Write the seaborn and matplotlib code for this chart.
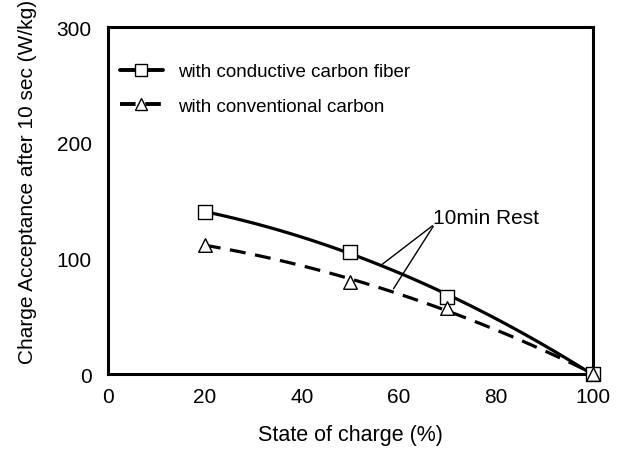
import numpy as np
import pandas as pd
import matplotlib
matplotlib.use('Agg')
import matplotlib.pyplot as plt
import seaborn as sns
from matplotlib.lines import Line2D

soc = [20, 50, 70, 100]
fiber = [140, 106, 67, 0]
conventional = [112, 80, 57, 0]
labels = ['with conductive carbon fiber', 'with conventional carbon']

df = pd.DataFrame({'soc': soc, 'fiber': fiber, 'conventional': conventional})

sns.set_style('white')
plt.rcParams['font.family'] = ['Liberation Sans', 'DejaVu Sans']
plt.rcParams['text.color'] = 'black'

fig = plt.figure(figsize=(6.34, 4.52), dpi=100)
ax = fig.add_axes([0.170, 0.170, 0.765, 0.768])

# fitted trend curves
sns.regplot(data=df, x='soc', y='fiber', order=2, ci=None, scatter=False, ax=ax,
            line_kws=dict(color='black', lw=2.3, ls='-'))
sns.regplot(data=df, x='soc', y='conventional', order=2, ci=None, scatter=False, ax=ax,
            line_kws=dict(color='black', lw=2.3, ls=(0, (5, 3))))

# measured points
sns.scatterplot(data=df, x='soc', y='fiber', marker='s', s=90, color='white',
                edgecolor='black', linewidth=1, ax=ax, zorder=5, clip_on=False)
sns.scatterplot(data=df, x='soc', y='conventional', marker='^', s=95, color='white',
                edgecolor='black', linewidth=1, ax=ax, zorder=5, clip_on=False)

ax.set_xlim(0, 100)
ax.set_ylim(0, 300)
ax.set_xticks([0, 20, 40, 60, 80, 100])
ax.set_yticks([0, 100, 200, 300])
ax.tick_params(direction='in', length=6, width=1.5, labelsize=15, colors='black')
ax.tick_params(axis='y', pad=11.5)
ax.tick_params(axis='x', pad=9.5)
for sp in ax.spines.values():
    sp.set_visible(True)
    sp.set_linewidth(2.2)
    sp.set_color('black')

ax.set_xlabel('State of charge (%)', fontsize=15.5, labelpad=13, color='black')
ax.set_ylabel('Charge Acceptance after 10 sec (W/kg)', fontsize=15, color='black')
ax.yaxis.set_label_coords(-0.146, 0.556)

handles = [
    Line2D([], [], color='black', lw=2.8, marker='s', markersize=9,
           markerfacecolor='white', markeredgecolor='black', markeredgewidth=1),
    Line2D([], [], color='black', lw=2.8, ls=(0, (4, 2.5)), marker='^', markersize=9,
           markerfacecolor='white', markeredgecolor='black', markeredgewidth=1),
]
ax.legend(handles, labels, loc='upper left', bbox_to_anchor=(0.025, 0.896),
          frameon=False, fontsize=13.5, handlelength=2.3, handletextpad=0.8,
          labelspacing=0.92, borderpad=0, borderaxespad=0)

# annotation
for tgt in [(56.1, 93.4), (58.6, 71.8)]:
    ax.annotate('', xy=tgt, xytext=(67.4, 129.7),
                arrowprops=dict(arrowstyle='-', color='black', lw=1))
ax.text(67.0, 135, '10min Rest', fontsize=15, va='center', ha='left')

fig.savefig('out.png', dpi=100)
